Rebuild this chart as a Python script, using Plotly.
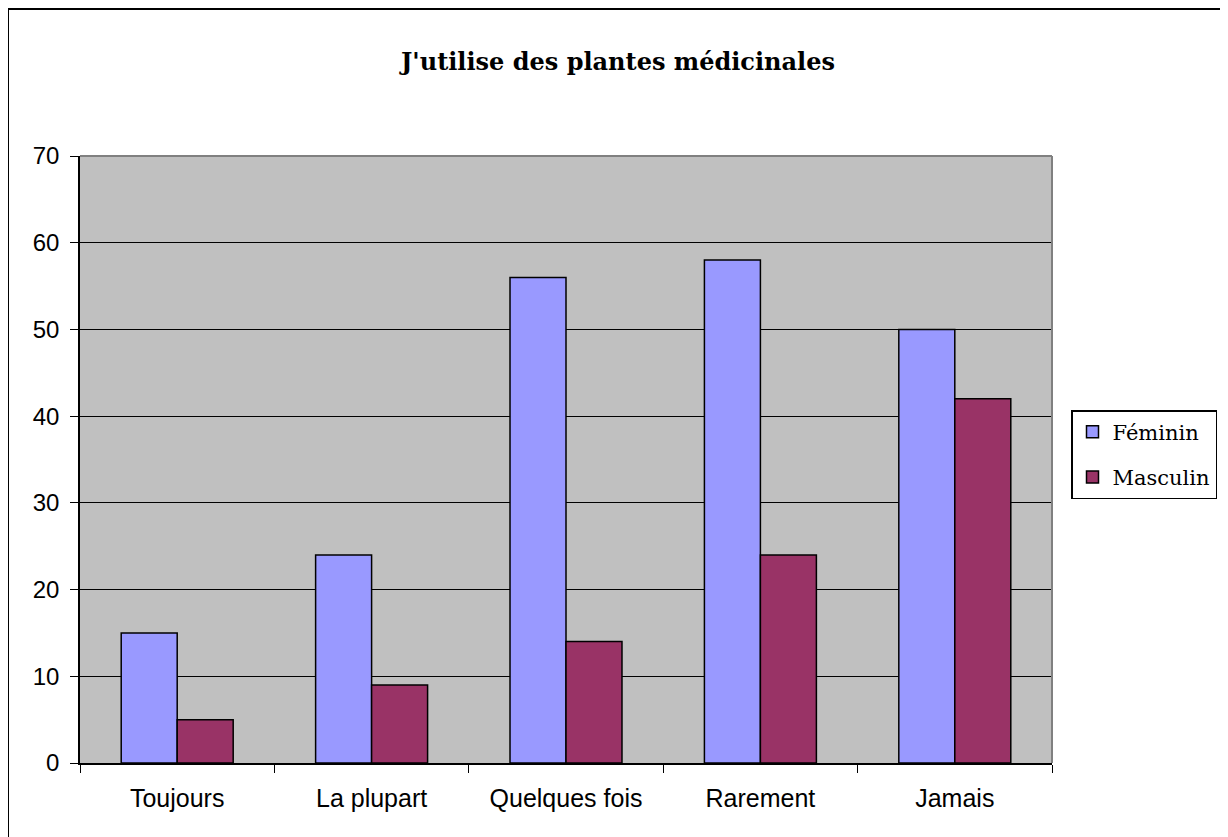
import plotly.graph_objects as go

categories = ["Toujours", "La plupart", "Quelques fois", "Rarement", "Jamais"]
feminin = [15, 24, 56, 58, 50]
masculin = [5, 9, 14, 24, 42]

# page body has an 8px margin: work in figure coordinates = screen - 8
OFF = 8
W, H = 1228 - OFF, 837 - OFF
L, T = 80 - OFF, 156 - OFF
pw, ph = 1052 - 80, 763 - 156
R, B = W - L - pw, H - T - ph


def px_x(p):
    return (p - OFF - L) / pw


def px_y(p):
    return (T + ph - (p - OFF)) / ph


fig = go.Figure()
fig.add_trace(go.Bar(name="Féminin", x=categories, y=feminin, legendgroup="f",
                     marker=dict(color="#9999FF", line=dict(color="black", width=1.5))))
fig.add_trace(go.Bar(name="Masculin", x=categories, y=masculin, legendgroup="m",
                     marker=dict(color="#993366", line=dict(color="black", width=1.5))))

shapes = [
    # outer frame (only top and left edges are inside the window)
    dict(type="line", xref="paper", yref="paper", x0=px_x(8), x1=px_x(1240), y0=px_y(9), y1=px_y(9),
         line=dict(color="black", width=2)),
    dict(type="line", xref="paper", yref="paper", x0=px_x(8), x1=px_x(8), y0=px_y(9), y1=px_y(850),
         line=dict(color="black", width=2)),
    # plot area top and right borders (gray)
    dict(type="line", xref="paper", yref="paper", x0=0, x1=1, y0=1, y1=1, line=dict(color="#808080", width=2)),
    dict(type="line", xref="paper", yref="paper", x0=1, x1=1, y0=0, y1=1, line=dict(color="#808080", width=2)),
]

fig.update_layout(
    width=W, height=H,
    margin=dict(l=L, r=R, t=T, b=B, autoexpand=False),
    paper_bgcolor="white",
    plot_bgcolor="#C0C0C0",
    barmode="group",
    bargap=0.424,
    bargroupgap=0,
    title=dict(text="<b>J'utilise des plantes médicinales</b>", x=0.5, xanchor="center",
               y=1 - (62 - OFF) / H, yanchor="middle",
               font=dict(family="DejaVu Serif, Liberation Serif, serif", size=24, color="black")),
    font=dict(family="Liberation Sans, Arial, sans-serif", size=24, color="black"),
    legend=dict(x=px_x(1071), xanchor="left", y=px_y(410), yanchor="top",
                bordercolor="black", borderwidth=1.5, bgcolor="white",
                font=dict(family="DejaVu Serif, Liberation Serif, serif", size=21, color="black"),
                tracegroupgap=15),
    shapes=shapes,
)
fig.update_xaxes(showline=True, linecolor="black", linewidth=1.5,
                 ticks="outside", tickson="boundaries", ticklen=8, tickcolor="black",
                 showgrid=False, tickfont=dict(size=25), ticklabelstandoff=12)
fig.update_yaxes(range=[0, 70], dtick=10, showline=True, linecolor="black", linewidth=1.5,
                 ticks="outside", ticklen=8, tickcolor="black",
                 showgrid=True, gridcolor="black", gridwidth=1.2, zeroline=False,
                 tickfont=dict(size=24), ticklabelstandoff=6)

fig.write_html("out.html")
